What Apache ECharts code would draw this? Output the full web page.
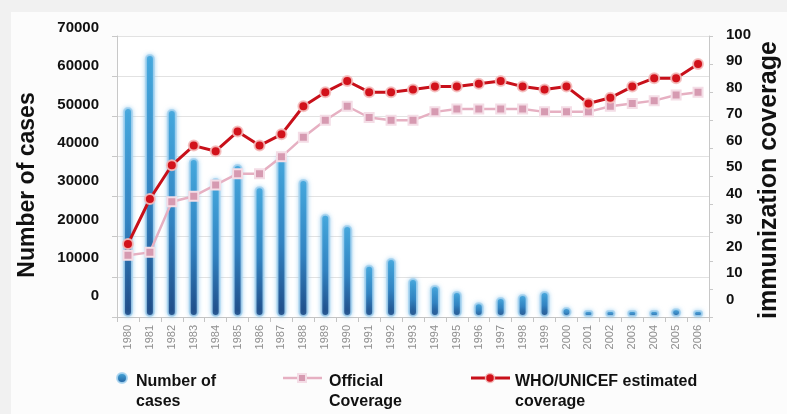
<!DOCTYPE html>
<html>
<head>
<meta charset="utf-8">
<script src="https://cdn.jsdelivr.net/npm/echarts@6/dist/echarts.min.js"></script>
<style>
  html, body { margin: 0; padding: 0; background: #f1f1f1; }
  #chart { width: 787px; height: 414px; }
</style>
</head>
<body>
<div id="chart"></div>
<script>
// Measles cases and immunization coverage, 1980-2006
const years = ['1980','1981','1982','1983','1984','1985','1986','1987','1988','1989',
  '1990','1991','1992','1993','1994','1995','1996','1997','1998','1999',
  '2000','2001','2002','2003','2004','2005','2006'];

const cases = [52300, 65500, 51800, 39600, 34600, 38100, 32600, 40600, 34400, 25700,
  22900, 13000, 14700, 9700, 8000, 6500, 3700, 5000, 5700, 6500,
  2500, 700, 1700, 700, 1000, 2200, 1500];

const officialCoverage = [22, 23, 41, 43, 47, 51, 51, 57, 64, 70,
  75, 71, 70, 70, 73, 74, 74, 74, 74, 73,
  73, 73, 75, 76, 77, 79, 80];

const whoCoverage = [26, 42, 54, 61, 59, 66, 61, 65, 75, 80,
  84, 80, 80, 81, 82, 82, 83, 84, 82, 81,
  82, 76, 78, 82, 85, 85, 90];

const casesTicks = { min: 0, max: 70000, interval: 10000 };
const coverageTicks = { min: 0, max: 100, interval: 10 };

const FONT = '"Liberation Sans", Arial, sans-serif';
const RED = '#c8101a';
const PINK = '#e6b0c2';

const chart = echarts.init(document.getElementById('chart'), null, { renderer: 'canvas' });

const hiddenX = (gridIndex) => ({
  type: 'category', gridIndex, data: years, show: false
});

// plain integers, no thousands separator
const plain = (v) => String(Math.round(v));

chart.setOption({
  backgroundColor: '#fcfcfc',
  animation: false,
  textStyle: { fontFamily: FONT },
  grid: [
    // plotting area
    { left: 117, width: 592, top: 36, height: 281, show: true, backgroundColor: '#ffffff', borderWidth: 0 },
    // left tick labels
    { left: 117, width: 592, top: 28, height: 268 },
    // right tick labels
    { left: 117, width: 592, top: 34.5, height: 265 }
  ],
  xAxis: [
    {
      type: 'category', gridIndex: 0, data: years, boundaryGap: true,
      axisLine: { lineStyle: { color: '#c4c4c4', width: 1 } },
      axisTick: { show: true, interval: 0, length: 5, lineStyle: { color: '#c4c4c4' } },
      axisLabel: {
        interval: 0, rotate: 90, margin: 8,
        color: '#8e8e8e', fontSize: 11, fontFamily: FONT
      }
    },
    hiddenX(1),
    hiddenX(2)
  ],
  yAxis: [
    {
      type: 'value', gridIndex: 0, position: 'left', ...casesTicks,
      axisLine: { show: true, lineStyle: { color: '#c8c8c8' } },
      axisTick: { show: true, length: 5, lineStyle: { color: '#c8c8c8' } },
      axisLabel: { show: false },
      splitLine: { show: true, lineStyle: { color: '#e2e2e2', width: 1 } }
    },
    {
      type: 'value', gridIndex: 0, position: 'right', ...coverageTicks,
      axisLine: { show: true, lineStyle: { color: '#c8c8c8' } },
      axisTick: { show: true, length: 4, lineStyle: { color: '#c8c8c8' } },
      axisLabel: { show: false },
      splitLine: { show: false }
    },
    {
      type: 'value', gridIndex: 1, position: 'left', ...casesTicks,
      axisLine: { show: false }, axisTick: { show: false }, splitLine: { show: false },
      axisLabel: { margin: 18, color: '#111111', fontSize: 15, fontWeight: 'bold', fontFamily: FONT, formatter: plain }
    },
    {
      type: 'value', gridIndex: 2, position: 'right', ...coverageTicks,
      axisLine: { show: false }, axisTick: { show: false }, splitLine: { show: false },
      axisLabel: { margin: 17, color: '#111111', fontSize: 15, fontWeight: 'bold', fontFamily: FONT, formatter: plain }
    }
  ],
  series: [
    {
      name: 'Number of cases',
      type: 'bar',
      xAxisIndex: 0, yAxisIndex: 0,
      data: cases,
      barWidth: 10,
      barMinHeight: 7,
      itemStyle: {
        color: new echarts.graphic.LinearGradient(0, 0, 0, 1, [
          { offset: 0, color: '#3fa6dc' },
          { offset: 0.55, color: '#2a7dbd' },
          { offset: 1, color: '#153f7c' }
        ]),
        borderRadius: 5,
        borderColor: 'rgba(168,212,240,0.85)',
        borderWidth: 2,
        shadowColor: 'rgba(130,195,235,0.6)',
        shadowBlur: 4
      },
      z: 2
    },
    {
      name: 'Official Coverage',
      type: 'line',
      xAxisIndex: 0, yAxisIndex: 1,
      data: officialCoverage,
      symbol: 'rect',
      symbolSize: 9,
      lineStyle: { color: PINK, width: 2.5 },
      itemStyle: { color: '#d69ab1', borderColor: '#f4dde6', borderWidth: 2 },
      z: 3
    },
    {
      name: 'WHO/UNICEF estimated coverage',
      type: 'line',
      xAxisIndex: 0, yAxisIndex: 1,
      data: whoCoverage,
      symbol: 'circle',
      symbolSize: 10,
      lineStyle: { color: RED, width: 3 },
      itemStyle: { color: '#d2121b', borderColor: 'rgba(244,190,190,0.9)', borderWidth: 2 },
      z: 4
    }
  ],
  graphic: [
    // outer frame strips
    { type: 'rect', left: 0, top: 0, shape: { width: 787, height: 12 }, style: { fill: '#f1f1f1' }, silent: true },
    { type: 'rect', left: 0, top: 0, shape: { width: 11, height: 414 }, style: { fill: '#f1f1f1' }, silent: true },
    // axis titles
    {
      type: 'text', x: 28, y: 185, rotation: Math.PI / 2,
      style: { text: 'Number of cases', fill: '#111', font: 'bold 23px ' + FONT, align: 'center', verticalAlign: 'middle' }
    },
    {
      type: 'text', x: 769, y: 180, rotation: Math.PI / 2,
      style: { text: 'immunization coverage', fill: '#111', font: 'bold 25px ' + FONT, align: 'center', verticalAlign: 'middle' }
    },
    // legend: Number of cases
    {
      type: 'circle', shape: { cx: 122, cy: 378, r: 5 },
      style: {
        fill: new echarts.graphic.LinearGradient(0, 0, 0, 1, [
          { offset: 0, color: '#4aaee0' }, { offset: 1, color: '#1d5a9a' }
        ]),
        stroke: 'rgba(168,212,240,0.9)', lineWidth: 2
      }
    },
    {
      type: 'text', x: 136, y: 372,
      style: { text: 'Number of\ncases', fill: '#111', font: 'bold 16px ' + FONT, lineHeight: 20, verticalAlign: 'top' }
    },
    // legend: Official Coverage
    { type: 'line', shape: { x1: 283, y1: 378, x2: 322, y2: 378 }, style: { stroke: PINK, lineWidth: 2.5 } },
    { type: 'rect', shape: { x: 298, y: 374, width: 8, height: 8 }, style: { fill: '#d69ab1', stroke: '#f4dde6', lineWidth: 2 } },
    {
      type: 'text', x: 329, y: 372,
      style: { text: 'Official\nCoverage', fill: '#111', font: 'bold 16px ' + FONT, lineHeight: 20, verticalAlign: 'top' }
    },
    // legend: WHO/UNICEF estimated coverage
    { type: 'line', shape: { x1: 471, y1: 378, x2: 510, y2: 378 }, style: { stroke: RED, lineWidth: 3 } },
    { type: 'circle', shape: { cx: 490, cy: 378, r: 4.5 }, style: { fill: '#d2121b', stroke: 'rgba(244,190,190,0.9)', lineWidth: 1.5 } },
    {
      type: 'text', x: 515, y: 372,
      style: { text: 'WHO/UNICEF estimated\ncoverage', fill: '#111', font: 'bold 16px ' + FONT, lineHeight: 20, verticalAlign: 'top' }
    }
  ]
});
</script>
</body>
</html>
